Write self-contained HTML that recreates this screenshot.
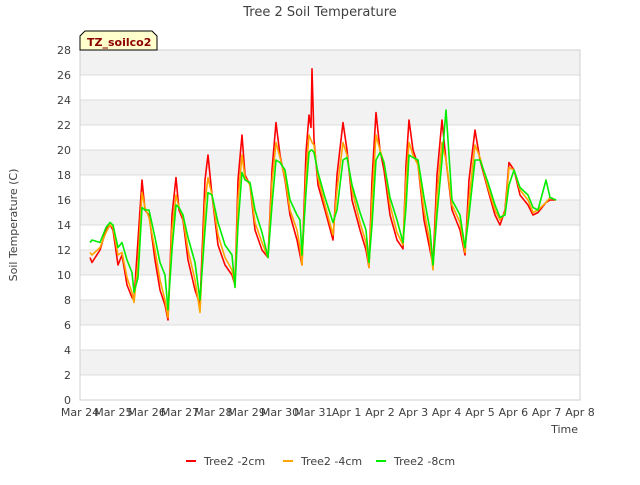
<!DOCTYPE html>
<html><head><meta charset="utf-8"><style>
body{margin:0;background:#fff;}
svg text{font-family:"DejaVu Sans","Liberation Sans",sans-serif;}
</style></head><body>
<svg id="chart" width="640" height="480" xmlns="http://www.w3.org/2000/svg">
<text x="320" y="16" text-anchor="middle" font-size="13" fill="#404040">Tree 2 Soil Temperature</text>
<g id="grid"></g>
<g id="series"></g>
<g id="axes"></g>
<text transform="translate(17,225) rotate(-90)" text-anchor="middle" font-size="11" fill="#404040">Soil Temperature (C)</text>
<text x="578" y="433" text-anchor="end" font-size="11" fill="#404040">Time</text>
<g>
<path d="M80,50 L80,36 L85,31 L152,31 L157,36 L157,50 Z" fill="#ffffcc" stroke="#000" stroke-width="1"/>
<text x="87" y="46" font-size="11" font-weight="bold" fill="#8b0000">TZ_soilco2</text>
</g>
<g id="legend"></g>
</svg>
<script>
const days=[0.30,0.36,0.60,0.78,0.90,0.99,1.14,1.26,1.41,1.56,1.62,1.74,1.86,1.95,2.07,2.25,2.40,2.55,2.64,2.76,2.88,2.97,3.09,3.24,3.45,3.60,3.75,3.84,3.96,4.14,4.35,4.56,4.65,4.74,4.86,4.95,5.10,5.25,5.46,5.64,5.76,5.88,6.00,6.15,6.30,6.51,6.60,6.66,6.78,6.87,6.93,6.96,7.02,7.14,7.35,7.59,7.71,7.89,8.01,8.16,8.40,8.58,8.67,8.76,8.88,9.00,9.12,9.30,9.51,9.69,9.78,9.87,9.99,10.14,10.32,10.50,10.59,10.71,10.86,10.98,11.16,11.40,11.55,11.67,11.85,12.00,12.24,12.45,12.60,12.75,12.87,13.02,13.20,13.44,13.59,13.74,13.98,14.10,14.28];
const red=[11.4,11.0,12.0,13.6,14.0,13.6,10.8,11.6,9.2,8.2,8.0,12.8,17.6,15.2,14.8,11.2,8.8,7.6,6.4,14.8,17.8,15.2,14.4,11.2,8.8,7.6,17.6,19.6,16.4,12.4,10.8,10.0,9.2,17.6,21.2,18.0,17.2,13.6,12.0,11.4,18.4,22.2,19.6,17.6,14.8,12.8,11.6,10.8,19.8,22.8,21.8,26.5,20.8,17.2,15.2,12.8,18.0,22.2,20.0,16.0,13.6,12.0,10.6,17.6,23.0,20.0,18.4,14.8,12.8,12.1,18.8,22.4,20.0,18.8,14.4,12.0,10.8,18.0,22.4,19.2,15.2,13.6,11.6,17.6,21.6,19.2,16.8,14.8,14.0,15.2,19.0,18.4,16.4,15.6,14.8,15.0,15.8,16.0,16.0];
const orange=[11.8,11.6,12.2,13.4,14.0,13.8,11.6,11.8,9.8,8.6,7.8,11.0,16.6,15.4,14.6,12.0,9.6,8.0,6.6,13.6,16.4,15.4,14.6,12.0,9.6,7.0,15.8,17.8,16.4,13.2,11.4,10.4,9.2,16.0,19.6,17.8,17.2,14.2,12.6,11.4,17.4,20.6,19.4,17.8,15.2,13.6,12.2,10.8,18.0,21.2,20.8,20.6,20.4,17.8,15.6,13.2,16.8,20.6,19.6,16.8,14.2,12.6,10.6,16.0,21.2,20.0,19.0,15.6,13.4,12.4,17.6,20.6,19.6,18.8,15.2,12.6,10.4,16.4,20.6,19.2,15.6,14.2,11.8,16.0,20.4,19.4,17.0,15.2,14.4,15.0,18.6,18.4,16.8,16.0,15.0,15.2,15.8,16.2,16.0];
const green=[12.6,12.8,12.6,13.8,14.2,14.0,12.2,12.6,11.2,10.2,8.6,9.8,15.4,15.2,15.2,13.0,11.0,10.0,7.2,12.0,15.6,15.4,14.8,13.0,11.0,8.0,13.6,16.6,16.4,14.2,12.4,11.6,9.0,14.0,18.2,17.6,17.4,15.2,13.4,11.4,15.6,19.2,19.0,18.4,16.0,14.8,14.4,11.6,16.6,19.8,20.0,20.0,19.8,18.2,16.2,14.2,15.2,19.2,19.4,17.2,15.0,13.6,11.0,14.0,19.2,19.8,19.0,16.2,14.4,12.6,15.4,19.6,19.4,19.2,16.2,13.6,10.8,14.8,19.2,23.2,16.0,14.8,12.2,14.8,19.2,19.2,17.4,15.6,14.6,14.8,17.2,18.4,17.0,16.4,15.4,15.2,17.6,16.2,16.0];
const xLabels=["Mar 24","Mar 25","Mar 26","Mar 27","Mar 28","Mar 29","Mar 30","Mar 31","Apr 1","Apr 2","Apr 3","Apr 4","Apr 5","Apr 6","Apr 7","Apr 8"];
const yTicks=[0,2,4,6,8,10,12,14,16,18,20,22,24,26,28];
const seriesNames=["Tree2 -2cm","Tree2 -4cm","Tree2 -8cm"];
const colors=["#ff0000","#ffa500","#00ee00"];

const L=80,R=580,T=50,B=400;
const xs=d=>L+d*(R-L)/15;
const ys=v=>B-v*(B-T)/28;
const NS="http://www.w3.org/2000/svg";
function mk(tag,attrs,parent){const e=document.createElementNS(NS,tag);for(const k in attrs)e.setAttribute(k,attrs[k]);parent.appendChild(e);return e;}
const grid=document.getElementById('grid'),axes=document.getElementById('axes'),ser=document.getElementById('series'),leg=document.getElementById('legend');
for(let i=0;i<yTicks.length-1;i++){
  if(i%2===1){const r=mk('rect',{x:L,y:ys(yTicks[i+1]),width:R-L,height:ys(yTicks[i])-ys(yTicks[i+1]),fill:'#f2f2f2'},grid);
  
  }
}
yTicks.forEach(v=>{
  const l=mk('line',{x1:L,x2:R,y1:ys(v),y2:ys(v),stroke:'#dcdcdc','stroke-width':1},grid);
  
  
  const t=mk('text',{x:L-9,y:ys(v)+4,'text-anchor':'end','font-size':11,fill:'#404040'},axes);
  t.textContent=v;
  
  
});
xLabels.forEach((s,i)=>{
  const t=mk('text',{x:xs(i),y:416,'text-anchor':'middle','font-size':11,fill:'#404040'},axes);
  t.textContent=s;
  
  
});
const fr=mk('rect',{x:L,y:T,width:R-L,height:B-T,fill:'none',stroke:'#d0d0d0'},axes);


[red,orange,green].forEach((vals,si)=>{
  const p=mk('polyline',{points:vals.map((v,i)=>xs(days[i]).toFixed(1)+','+ys(v).toFixed(1)).join(' '),fill:'none',stroke:colors[si],'stroke-width':1.6,'stroke-linejoin':'round'},ser);
  
  
});
const lx=[186,283,376];
seriesNames.forEach((n,i)=>{
  const g=mk('g',{},leg);
  
  
  mk('line',{x1:lx[i],x2:lx[i]+10,y1:461,y2:461,stroke:colors[i],'stroke-width':2},g);
  const t=mk('text',{x:lx[i]+18,y:465,'font-size':11,fill:'#404040'},g);
  t.textContent=n;
});
</script>
</body></html>
